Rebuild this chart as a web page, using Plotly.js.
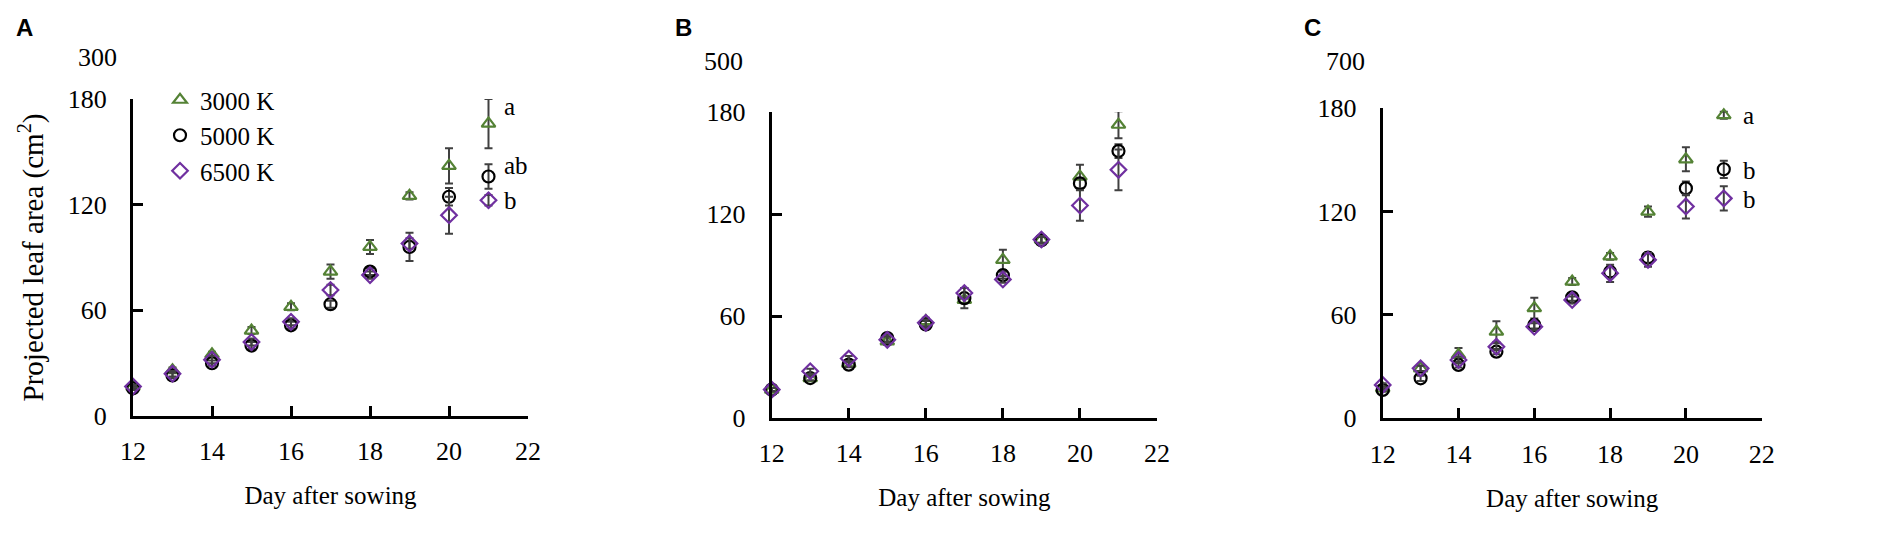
<!DOCTYPE html>
<html>
<head>
<meta charset="utf-8">
<script src="https://cdn.plot.ly/plotly-3.0.1.min.js"></script>
<style>
  body { margin: 0; background: #fff; }
  #chart { width: 1901px; height: 537px; }
</style>
</head>
<body>
<div id="chart"></div>
<script>
// days after sowing
const days = [12, 13, 14, 15, 16, 17, 18, 19, 20, 21];
const seriesNames = ['3000 K', '5000 K', '6500 K'];

// panel A
const a3000 = [16.7, 26, 35, 48.5, 62, 82, 96, 125, 142, 166];
const a3000err = [1, 1.5, 1.5, 2, 2, 4, 4, 2, 10, 14];
const a5000 = [15.7, 23, 30, 40, 51.5, 63.5, 82, 96, 124.5, 136];
const a5000err = [1, 1.5, 1.5, 2, 2, 2, 2, 8, 5, 7];
const a6500 = [16.7, 24, 32, 42, 53.5, 71.5, 80, 98, 114, 122.5];
const a6500err = [1, 1.5, 2, 2, 2, 3, 2, 3, 10.5, 3];

// panel B
const b3000 = [16.7, 23.5, 32, 45, 57, 69.5, 93, 105, 142, 172.5];
const b3000err = [1, 1.5, 1.5, 2, 2, 2, 6, 2, 7, 8];
const b5000 = [16.7, 23.5, 31.4, 47, 55, 70.5, 84, 104.5, 138, 157];
const b5000err = [1, 1.5, 1.5, 2, 2, 6, 2, 2, 3, 4];
const b6500 = [16.7, 27.5, 35, 46, 56, 73.5, 81.5, 105, 125, 146];
const b6500err = [1, 1.5, 1.5, 2, 2, 3, 2, 2, 9, 12];

// panel C
const c3000 = [17.4, 29, 36.8, 50.3, 64, 79.4, 94, 120, 150.4, 176];
const c3000err = [1, 1.5, 4, 6, 6, 2, 2, 3, 7, 2];
const c5000 = [16.5, 23.2, 31, 38.7, 54.2, 70.3, 85, 93.3, 133.5, 144.6];
const c5000err = [1, 1.5, 1.5, 1.5, 2, 2, 3, 3, 4, 5];
const c6500 = [19.4, 29, 33.9, 41.6, 53.2, 68.7, 84.2, 92, 123, 127.7];
const c6500err = [1, 1.5, 2, 2, 2, 2, 5, 4, 7, 7];

// significance letters (day 21)
const lettersA = ['a', 'ab', 'b'];
const lettersAy = [175.5, 142.5, 122.5];
const lettersC = ['a', 'b', 'b'];
const lettersCy = [176, 144, 127];

const serif = 'Liberation Serif, Times New Roman, serif';
const colors = ['#548235', '#000000', '#7030a0'];
const symbols = ['triangle-up-open', 'circle-open', 'diamond-open'];

function makeTrace(k, y, err, xa, ya, legend) {
    return {
        type: 'scatter',
        mode: 'markers',
        x: days,
        y: y,
        name: seriesNames[k],
        legendgroup: 'g' + k,
        showlegend: legend,
        xaxis: xa,
        yaxis: ya,
        cliponaxis: false,
        marker: {
            symbol: symbols[k],
            size: 12,
            color: colors[k],
            line: { color: colors[k], width: 2.2 }
        },
        error_y: {
            type: 'data',
            array: err,
            visible: true,
            color: '#404040',
            thickness: 2,
            width: 4
        }
    };
}

const data = [
    makeTrace(0, a3000, a3000err, 'x', 'y', true),
    makeTrace(1, a5000, a5000err, 'x', 'y', true),
    makeTrace(2, a6500, a6500err, 'x', 'y', true),
    makeTrace(0, b3000, b3000err, 'x2', 'y2', false),
    makeTrace(1, b5000, b5000err, 'x2', 'y2', false),
    makeTrace(2, b6500, b6500err, 'x2', 'y2', false),
    makeTrace(0, c3000, c3000err, 'x3', 'y3', false),
    makeTrace(1, c5000, c5000err, 'x3', 'y3', false),
    makeTrace(2, c6500, c6500err, 'x3', 'y3', false)
];

function xAxis(dom, anchor) {
    return {
        domain: dom,
        anchor: anchor,
        range: [12, 22],
        dtick: 2,
        showgrid: false,
        zeroline: false,
        showline: true,
        linecolor: '#000',
        linewidth: 3,
        ticks: 'inside',
        ticklen: 10,
        tickwidth: 3,
        tickcolor: '#000',
        ticklabelstandoff: 10,
        tickfont: { family: serif, size: 26, color: '#000' },
        title: { text: 'Day after sowing', font: { family: serif, size: 25, color: '#000' }, standoff: 22 }
    };
}

function yAxis(dom, anchor, title) {
    const ax = {
        domain: dom,
        anchor: anchor,
        range: [0, 180],
        dtick: 60,
        showgrid: false,
        zeroline: false,
        showline: true,
        linecolor: '#000',
        linewidth: 3,
        ticks: 'inside',
        ticklen: 10,
        tickwidth: 3,
        tickcolor: '#000',
        ticklabelstandoff: 18,
        tickfont: { family: serif, size: 26, color: '#000' }
    };
    if (title) {
        ax.title = { text: title, font: { family: serif, size: 29, color: '#000' }, standoff: 16 };
    }
    return ax;
}

const annotations = [];
function txt(x, y, t, xref, yref, font, xanchor) {
    annotations.push({
        x: x, y: y, text: t, xref: xref, yref: yref,
        showarrow: false, xanchor: xanchor || 'center', yanchor: 'middle',
        font: font
    });
}
const letterFont = { family: serif, size: 25, color: '#000' };
const panelFont = { family: 'Liberation Sans, Arial, sans-serif', size: 24, color: '#000', weight: 'bold' };

lettersA.forEach((t, i) => txt(21.35, lettersAy[i], t, 'x', 'y', letterFont, 'left'));
lettersC.forEach((t, i) => txt(21.45, lettersCy[i], t, 'x3', 'y3', letterFont, 'left'));

// stray labels above each axis
txt(97 / 1901, 1 - 57 / 537, '300', 'paper', 'paper', { family: serif, size: 26, color: '#000' });
txt(723 / 1901, 1 - 62 / 537, '500', 'paper', 'paper', { family: serif, size: 26, color: '#000' });
txt(1345 / 1901, 1 - 62 / 537, '700', 'paper', 'paper', { family: serif, size: 26, color: '#000' });

// panel letters
txt(24 / 1901, 1 - 27 / 537, '<b>A</b>', 'paper', 'paper', panelFont);
txt(683 / 1901, 1 - 27 / 537, '<b>B</b>', 'paper', 'paper', panelFont);
txt(1312 / 1901, 1 - 27 / 537, '<b>C</b>', 'paper', 'paper', panelFont);

const layout = {
    width: 1901,
    height: 537,
    margin: { t: 0, b: 0, l: 0, r: 0 },
    paper_bgcolor: '#fff',
    plot_bgcolor: 'rgba(0,0,0,0)',
    showlegend: true,
    legend: {
        x: 160 / 1901,
        y: 1 - 77 / 537,
        xanchor: 'left',
        yanchor: 'top',
        bgcolor: 'rgba(0,0,0,0)',
        font: { family: serif, size: 25, color: '#000' },
        tracegroupgap: 0,
        itemwidth: 30
    },
    xaxis: xAxis([133 / 1901, 528 / 1901], 'y'),
    yaxis: yAxis([1 - 416 / 537, 1 - 99 / 537], 'x', 'Projected leaf area (cm<sup>2</sup>)'),
    xaxis2: xAxis([771.7 / 1901, 1157 / 1901], 'y2'),
    yaxis2: yAxis([1 - 418 / 537, 1 - 112 / 537], 'x2'),
    xaxis3: xAxis([1382.7 / 1901, 1761.7 / 1901], 'y3'),
    yaxis3: yAxis([1 - 418.3 / 537, 1 - 108.3 / 537], 'x3'),
    annotations: annotations
};

Plotly.newPlot('chart', data, layout, { displayModeBar: false, staticPlot: true });
</script>
</body>
</html>
